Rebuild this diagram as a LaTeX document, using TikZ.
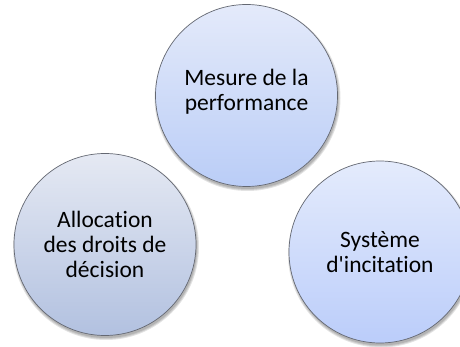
\documentclass[tikz,border=0pt]{standalone}
\usepackage{fontspec}
\setmainfont{Carlito}[Ligatures={TeXOff,CommonOff}]
\definecolor{topTop}{RGB}{228,234,250}
\definecolor{topBot}{RGB}{186,205,247}
\definecolor{leftTop}{RGB}{229,233,243}
\definecolor{leftBot}{RGB}{178,193,224}
\definecolor{rightTop}{RGB}{228,235,252}
\definecolor{rightBot}{RGB}{187,205,250}
\definecolor{rim}{RGB}{100,104,114}
\tikzset{
  bubble/.style={circle, draw=rim, line width=0.7pt, minimum size=182pt, inner sep=0pt,
    align=center, text=black, font={\fontsize{23.5}{25}\selectfont}},
  shade/.style={fill=black, opacity=0.11}
}
\begin{document}
\begin{tikzpicture}[x=1pt,y=-1pt]
\fill[white] (0,0) rectangle (460,347);
\useasboundingbox (0,0) rectangle (460,347);
\coordinate (cP) at (246.5,95.5);
\coordinate (cL) at (105,244.5);
\coordinate (cR) at (380,252);
\foreach \c in {cP,cL,cR}{
  \foreach \r in {93,92,91}{
    \fill[shade] ([shift={(1,2.5)}]\c) circle (\r);
  }
}
\node[bubble, top color=topTop, bottom color=topBot] (perf) at (cP) {\rule{0pt}{0pt}\\[-17pt]Mesure de la\\performance};
\node[bubble, top color=leftTop, bottom color=leftBot] (alloc) at (cL) {Allocation\\des droits de\\décision};
\node[bubble, top color=rightTop, bottom color=rightBot] (incit) at (cR) {Système\\d'incitation};
\end{tikzpicture}
\end{document}
